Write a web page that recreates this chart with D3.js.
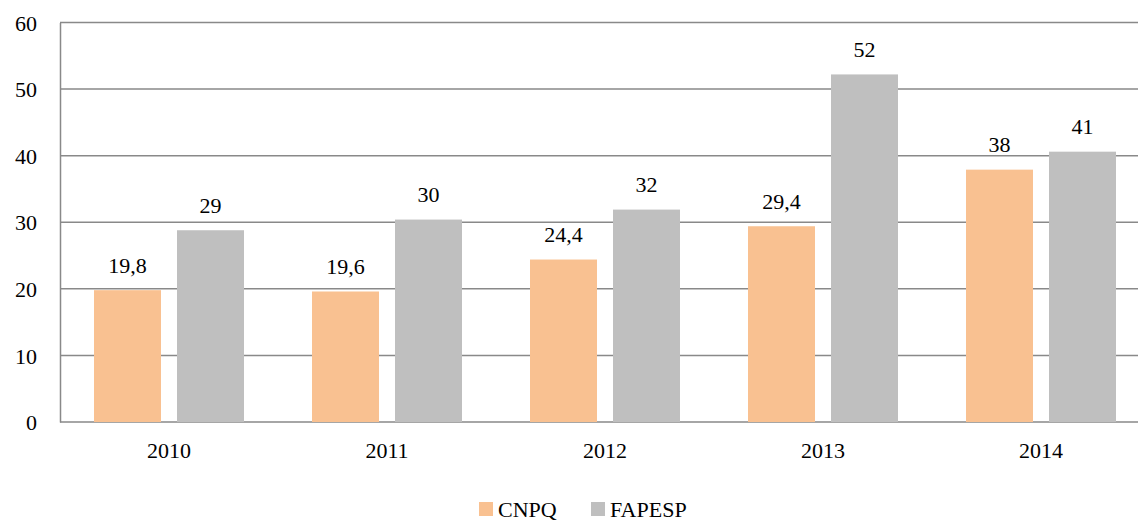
<!DOCTYPE html>
<html>
<head>
<meta charset="utf-8">
<script src="https://cdn.jsdelivr.net/npm/d3@7"></script>
<style>
  body { margin: 0; background: #fff; }
  svg text { font-family: "Times New Roman", "Liberation Serif", "DejaVu Serif", serif; fill: #000; }
</style>
</head>
<body>
<div id="main"></div>
<script>
var years = ['2010', '2011', '2012', '2013', '2014'];
var series = ['CNPQ', 'FAPESP'];
var cnpq = [19.8, 19.6, 24.4, 29.4, 37.9];
var fapesp = [28.8, 30.4, 31.9, 52.2, 40.6];
var cnpqLabels = ['19,8', '19,6', '24,4', '29,4', '38'];
var fapespLabels = ['29', '30', '32', '52', '41'];
var yTicks = [0, 10, 20, 30, 40, 50, 60];
var colors = ['#F9C191', '#BFBFBF'];

var width = 1138,
    height = 521;
var serif = '"Times New Roman", "Liberation Serif", "DejaVu Serif", serif';

var svg = d3.select('#main').append('svg')
    .attr('width', width)
    .attr('height', height);

// plot area runs past the right edge, as in the original
var x = d3.scaleBand().domain(years).range([60, 1150]);
var y = d3.scaleLinear().domain([0, 60]).range([422, 22.5]);

var barW = 67, gap = 16;
var outer = (x.bandwidth() - 2 * barW - gap) / 2;

// grid lines
svg.selectAll('.grid')
  .data(yTicks)
  .enter().append('line')
    .attr('class', 'grid')
    .attr('x1', 60).attr('x2', width)
    .attr('y1', function(d) { return y(d); })
    .attr('y2', function(d) { return y(d); })
    .style('stroke', '#898989')
    .style('stroke-width', 1.5);

// y axis
var yAxis = svg.append('g')
    .attr('transform', 'translate(60,0)')
    .call(d3.axisLeft(y).tickValues(yTicks).tickSize(0).tickPadding(23));
yAxis.attr('font-family', null);
yAxis.select('.domain').style('stroke', '#898989').style('stroke-width', 1.5);
yAxis.selectAll('text').style('font-size', '22px').style('font-family', serif).attr('dy', '0.35em');

// x axis
var xAxis = svg.append('g')
    .attr('transform', 'translate(0,422)')
    .call(d3.axisBottom(x).tickSize(0).tickPadding(20));
xAxis.attr('font-family', null);
xAxis.select('.domain').remove();
xAxis.selectAll('text').style('font-size', '22px').style('font-family', serif);

var data = years.map(function(yr, i) {
  return {
    year: yr,
    bars: [
      { k: 0, v: cnpq[i], label: cnpqLabels[i] },
      { k: 1, v: fapesp[i], label: fapespLabels[i] }
    ]
  };
});

var group = svg.selectAll('.yr')
  .data(data)
  .enter().append('g')
    .attr('class', 'yr')
    .attr('transform', function(d) { return 'translate(' + x(d.year) + ',0)'; });

group.selectAll('rect')
  .data(function(d) { return d.bars; })
  .enter().append('rect')
    .attr('x', function(d) { return outer + d.k * (barW + gap); })
    .attr('y', function(d) { return y(d.v); })
    .attr('width', barW)
    .attr('height', function(d) { return y(0) - y(d.v); })
    .style('fill', function(d) { return colors[d.k]; });

group.selectAll('.lbl')
  .data(function(d) { return d.bars; })
  .enter().append('text')
    .attr('class', 'lbl')
    .attr('x', function(d) { return outer + d.k * (barW + gap) + barW / 2; })
    .attr('y', function(d) { return y(d.v) - 17.5; })
    .attr('text-anchor', 'middle')
    .style('font-size', '22px')
    .style('font-family', serif)
    .text(function(d) { return d.label; });

// legend
var legendX = [479, 591];
var legend = svg.selectAll('.legend')
  .data(series)
  .enter().append('g')
    .attr('class', 'legend')
    .attr('transform', function(d, i) { return 'translate(' + legendX[i] + ',502)'; });

legend.append('rect')
    .attr('width', 14).attr('height', 14)
    .style('fill', function(d, i) { return colors[i]; });

legend.append('text')
    .attr('x', 19).attr('y', 15)
    .style('font-size', '22px')
    .style('font-family', serif)
    .text(function(d) { return d; });
</script>
</body>
</html>
